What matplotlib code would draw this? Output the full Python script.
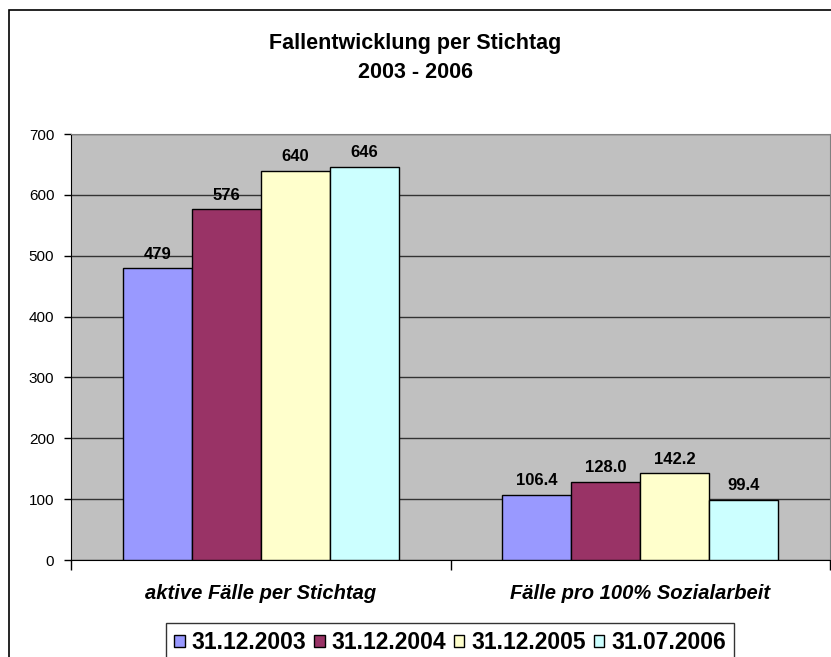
import numpy as np
import matplotlib.pyplot as plt
from matplotlib.patches import Rectangle

plt.rcParams['font.family'] = ['Liberation Sans', 'DejaVu Sans']

categories = ['aktive Fälle per Stichtag', 'Fälle pro 100% Sozialarbeit']
series = ['31.12.2003', '31.12.2004', '31.12.2005', '31.07.2006']
values = [
    [479, 106.4],
    [576, 128.0],
    [640, 142.2],
    [646, 99.4],
]
label_fmt = ['{:.0f}', '{:.1f}']
colors = ['#9999FF', '#993366', '#FFFFCC', '#CCFFFF']

W, H = 831, 657
fig = plt.figure(figsize=(W / 100, H / 100), dpi=100)

# outer chart border (right/bottom edges run off the image)
fig.patches.append(Rectangle((9 / W, -0.1), 1.2, 1 - 10 / H + 0.1,
                             transform=fig.transFigure, fill=False,
                             edgecolor='black', linewidth=1.2))

ax = fig.add_axes([71 / W, (H - 560) / H, (830 - 71) / W, (560 - 134) / H])
ax.set_facecolor('#C0C0C0')

x = np.arange(len(categories)) + 0.5
w = 1 / 5.5
for i, (name, vals) in enumerate(zip(series, values)):
    pos = x + (i - 1.5) * w
    ax.bar(pos, vals, width=w, color=colors[i], edgecolor='black',
           linewidth=1, label=name, zorder=3)
    for px, v, fmt in zip(pos, vals, label_fmt):
        ax.annotate(fmt.format(v), (px, v), xytext=(0, 5),
                    textcoords='offset points', ha='center', va='bottom',
                    fontsize=12, fontweight='bold', zorder=4)

ax.set_xlim(0, 2)
ax.set_ylim(0, 700)
ax.set_yticks(range(0, 701, 100))
ax.yaxis.grid(True, color='#333333', linewidth=1, zorder=0)
ax.tick_params(axis='y', length=5, width=1, pad=7, labelsize=11, direction='out')

ax.set_xticks([0, 1, 2])
ax.set_xticklabels([])
ax.tick_params(axis='x', which='major', length=7, width=1, direction='out')
ax.set_xticks(x, minor=True)
ax.set_xticklabels(categories, minor=True, fontsize=14.5,
                   fontweight='bold', fontstyle='italic')
ax.tick_params(axis='x', which='minor', length=0, pad=17)

for side in ['top', 'right']:
    ax.spines[side].set_color('#808080')
for side in ['left', 'bottom']:
    ax.spines[side].set_color('black')

fig.text(0.5, 1 - 43 / H, 'Fallentwicklung per Stichtag', ha='center',
         va='center', fontsize=15.5, fontweight='bold')
fig.text(0.5, 1 - 72 / H, '2003 - 2006', ha='center', va='center',
         fontsize=15.5, fontweight='bold')

leg = fig.legend(loc='upper center', bbox_to_anchor=(450 / W, 1 - 623 / H),
                 ncol=4, frameon=True, fancybox=False, edgecolor='black',
                 handlelength=0.45, handleheight=0.45, handletextpad=0.3,
                 columnspacing=0.35, borderpad=0.35, borderaxespad=0,
                 prop={'size': 16.5, 'weight': 'bold'})
leg.get_frame().set_linewidth(1)

fig.savefig('out.png', dpi=100)
